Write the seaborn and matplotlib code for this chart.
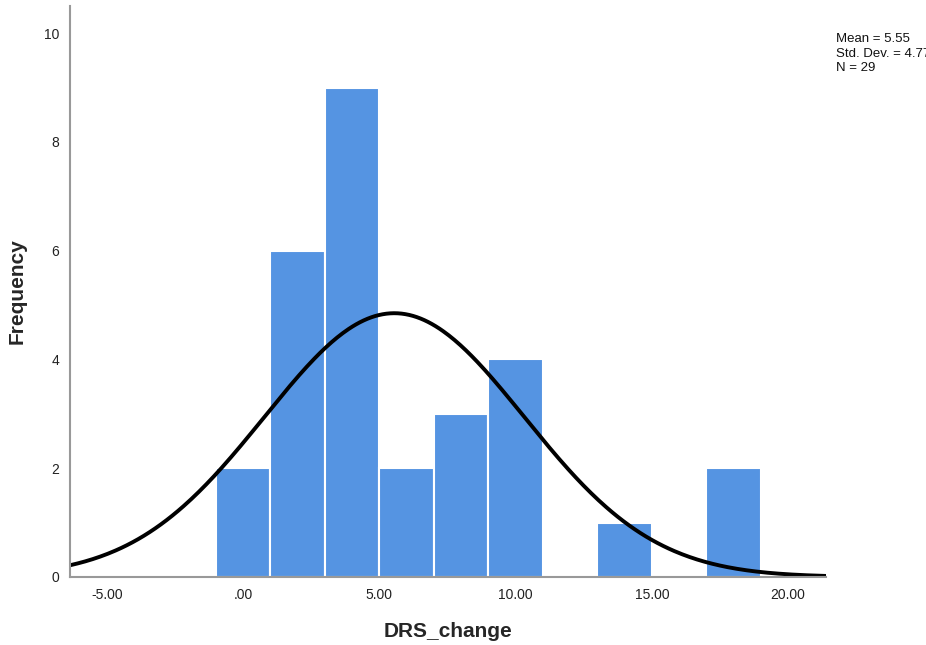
import numpy as np
import pandas as pd
import matplotlib
matplotlib.use("Agg")
import matplotlib.pyplot as plt
import seaborn as sns

# Data
bin_edges = [-1, 1, 3, 5, 7, 9, 11, 13, 15, 17, 19]
counts = [2, 6, 9, 2, 3, 4, 0, 1, 0, 2]
mean_val = 5.55
sd_val = 4.77
n_val = 29
x_ticks = [-5, 0, 5, 10, 15, 20]
x_tick_labels = ["-5.00", ".00", "5.00", "10.00", "15.00", "20.00"]
y_ticks = [0, 2, 4, 6, 8, 10]

sns.set_theme(style="white")
plt.rcParams["font.family"] = ["Liberation Sans", "DejaVu Sans"]

fig = plt.figure(figsize=(9.26, 6.45), dpi=100)
ax = fig.add_axes([70/926, 1-577/645, (826-70)/926, (577-6)/645])

centers = [(a + b) / 2 for a, b in zip(bin_edges[:-1], bin_edges[1:])]
df = pd.DataFrame({"DRS_change": centers, "count": counts})
sns.histplot(data=df, x="DRS_change", weights="count", bins=bin_edges,
             color="#5594e2", alpha=1.0, edgecolor="white", linewidth=1.5, ax=ax)

xmin, xmax = -6.35, 21.39
xs = np.linspace(xmin, xmax, 400)
binw = bin_edges[1] - bin_edges[0]
ys = n_val * binw / (sd_val * np.sqrt(2 * np.pi)) * np.exp(-0.5 * ((xs - mean_val) / sd_val) ** 2)
sns.lineplot(x=xs, y=ys, color="black", linewidth=2.8, ax=ax)

ax.set_xlim(xmin, xmax)
ax.set_ylim(0, 10.5)
ax.set_xticks(x_ticks)
ax.set_xticklabels(x_tick_labels)
ax.set_yticks(y_ticks)
ax.tick_params(axis="both", length=0, labelsize=10, colors="#222222", pad=8)
for s in ["top", "right"]:
    ax.spines[s].set_visible(False)
for s in ["left", "bottom"]:
    ax.spines[s].set_color("#999999")
    ax.spines[s].set_linewidth(1.5)

ax.set_xlabel("DRS_change", fontsize=15, fontweight="bold", labelpad=14)
ax.set_ylabel("Frequency", fontsize=15, fontweight="bold", labelpad=12)

fig.text(836/926, 1-33/645, f"Mean = {mean_val:.2f}\nStd. Dev. = {sd_val:.3f}\nN = {n_val}",
         fontsize=9.5, va="top", ha="left", linespacing=1.3, color="#111111")

fig.savefig("out.png", dpi=100)
